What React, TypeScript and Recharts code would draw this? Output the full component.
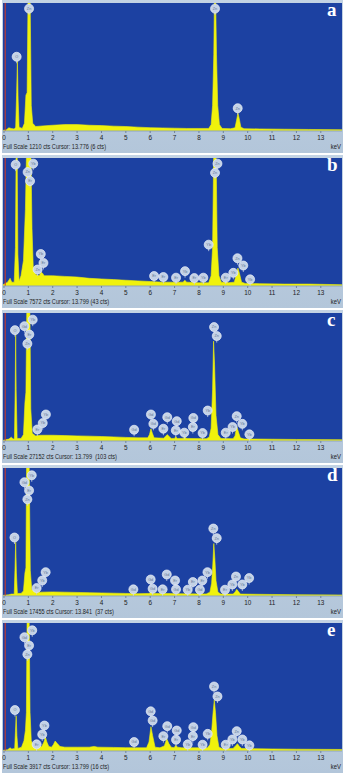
import { Area, CartesianGrid, ComposedChart, ReferenceLine, Scatter, XAxis, YAxis } from 'recharts';

// keV axis as drawn by the EDS software (slightly below 0 on the left)
const KEV_MIN = -0.04;
const KEV_MAX = 13.87;
const kevTicks = [0, 1, 2, 3, 4, 5, 6, 7, 8, 9, 10, 11, 12, 13];

const panelLetters = ['a', 'b', 'c', 'd', 'e'];
const fullScales = [1210, 7572, 27152, 17455, 3917];
const cursorReadouts = ['13.776 (6 cts)', '13.799 (43 cts)', '13.799  (103 cts)', '13.841  (37 cts)', '13.799 (16 cts)'];

// spectra: [keV, % of full scale]
const specA: [number, number][] = [
  [-0.04, 0.5], [0.1, 1], [0.2, 2.5], [0.3, 2], [0.42, 1.5], [0.48, 3], [0.52, 30], [0.55, 55], [0.58, 25], [0.62, 3],
  [0.75, 2], [0.84, 6], [0.9, 28], [0.95, 30], [0.99, 110], [1.07, 110], [1.12, 20], [1.18, 6], [1.3, 3.5], [1.6, 4],
  [2.0, 4.5], [2.5, 5], [3.0, 5], [3.5, 4.5], [4.0, 4.2], [4.5, 3.8], [5.0, 3.5], [5.5, 3], [6.0, 2.6], [6.5, 2.4],
  [7.0, 2.2], [7.5, 2], [8.0, 2], [8.4, 2], [8.5, 5], [8.56, 20], [8.61, 60], [8.64, 110], [8.68, 110], [8.72, 60],
  [8.77, 20], [8.84, 5], [8.95, 2], [9.3, 1.8], [9.48, 2.5], [9.54, 8], [9.6, 14], [9.65, 10], [9.72, 3], [9.85, 1.8],
  [10.5, 1.6], [11.5, 1.4], [12.5, 1.2], [13.87, 1],
];
const specB: [number, number][] = [
  [-0.04, 1], [0.15, 3], [0.25, 6], [0.32, 3], [0.42, 3], [0.47, 30], [0.5, 110], [0.54, 110], [0.57, 25], [0.62, 4],
  [0.7, 8], [0.8, 20], [0.88, 60], [0.93, 110], [1.1, 110], [1.15, 45], [1.2, 15], [1.3, 9], [1.45, 8], [1.52, 11],
  [1.58, 10], [1.65, 8], [2.0, 8], [2.5, 7.5], [3.0, 7], [3.5, 6], [4.0, 5.5], [4.5, 5], [5.0, 4.5], [5.5, 4],
  [6.0, 3.5], [6.5, 3], [7.0, 3], [7.35, 3], [7.42, 4.5], [7.5, 3], [8.0, 2.5], [8.4, 2.5], [8.5, 8], [8.56, 30],
  [8.61, 110], [8.7, 110], [8.75, 30], [8.82, 8], [8.92, 3], [9.05, 3], [9.1, 4], [9.2, 2.5], [9.45, 3], [9.52, 8],
  [9.6, 14], [9.66, 10], [9.75, 3], [9.9, 2], [10.5, 1.8], [11.5, 1.5], [12.5, 1.5], [13.87, 1],
];
const specC: [number, number][] = [
  [-0.04, 0.5], [0.2, 1.5], [0.3, 3], [0.38, 1.5], [0.43, 2], [0.46, 40], [0.48, 85], [0.5, 40], [0.54, 2], [0.7, 2],
  [0.8, 5], [0.86, 30], [0.9, 38], [0.94, 110], [1.06, 110], [1.1, 25], [1.16, 6], [1.3, 4], [1.5, 4.5], [2.0, 4.5],
  [2.5, 4.2], [3.0, 4], [3.5, 3.8], [4.0, 3.5], [4.5, 3.2], [5.0, 2.8], [5.5, 2.5], [5.9, 2.5], [5.97, 5], [6.03, 9.5],
  [6.09, 6], [6.16, 2.5], [6.55, 2.2], [6.62, 3.5], [6.7, 5], [6.78, 3.5], [6.86, 2], [7.0, 2], [7.05, 3.5], [7.1, 2],
  [7.35, 2], [7.42, 3.2], [7.5, 2], [8.3, 1.8], [8.42, 3], [8.5, 10], [8.56, 40], [8.6, 78], [8.64, 60], [8.7, 20],
  [8.78, 5], [8.9, 2], [9.4, 1.8], [9.48, 4], [9.55, 11.4], [9.62, 7], [9.7, 2.5], [9.85, 1.6], [11, 1.4], [12, 1.2],
  [13.87, 1],
];
const specD: [number, number][] = [
  [-0.04, 0.5], [0.2, 1], [0.3, 1.5], [0.42, 1.5], [0.45, 20], [0.48, 42], [0.51, 18], [0.55, 2], [0.7, 2], [0.8, 4],
  [0.86, 18], [0.9, 22], [0.93, 110], [1.03, 110], [1.08, 20], [1.14, 5], [1.3, 3], [1.5, 3], [2.0, 3.2], [2.5, 3],
  [3.0, 2.8], [3.5, 2.6], [4.0, 2.4], [4.5, 2.2], [5.0, 2], [5.5, 1.8], [5.95, 2], [6.03, 3], [6.1, 2], [6.7, 2],
  [7.0, 1.8], [8.3, 1.6], [8.45, 3], [8.52, 10], [8.57, 25], [8.61, 41], [8.65, 30], [8.7, 12], [8.78, 3], [8.9, 1.5],
  [9.4, 1.5], [9.48, 3], [9.55, 5.2], [9.62, 3.5], [9.7, 1.5], [11, 1.2], [12, 1], [13.87, 0.8],
];
const specE: [number, number][] = [
  [-0.04, 0.5], [0.15, 1], [0.25, 2.5], [0.32, 1.5], [0.44, 2], [0.47, 15], [0.5, 27.6], [0.53, 12], [0.57, 2], [0.72, 3],
  [0.82, 8], [0.88, 16], [0.92, 30], [0.95, 110], [1.03, 110], [1.07, 30], [1.12, 8], [1.18, 5], [1.22, 7], [1.27, 4],
  [1.4, 3], [1.55, 3.5], [1.64, 7], [1.7, 10.9], [1.76, 7], [1.84, 3.5], [1.95, 3], [2.03, 5], [2.1, 7.8], [2.18, 6],
  [2.3, 3.5], [2.5, 3], [3.0, 3], [3.5, 3], [3.7, 3.6], [3.85, 3], [4.5, 2.8], [5.0, 2.6], [5.5, 2.5], [5.85, 2.5],
  [5.95, 7], [6.03, 19], [6.1, 12], [6.2, 3], [6.4, 2.5], [6.58, 4], [6.68, 9.6], [6.76, 6], [6.86, 3], [6.98, 2.5],
  [7.05, 4.4], [7.12, 3], [7.3, 2.5], [7.8, 2.5], [8.35, 2.5], [8.45, 5], [8.52, 15], [8.58, 30], [8.63, 39.8], [8.68, 30],
  [8.74, 12], [8.82, 3], [8.95, 2], [9.4, 2], [9.5, 4], [9.58, 5.7], [9.66, 3.5], [9.75, 2], [11, 1.6], [12, 1.4],
  [13.87, 1.2],
];

// element tags: [keV, % of full scale, element]
const tagsA: [number, number, string][] = [
  [0.52, 58, 'O'], [1.03, 95.6, 'Zn'], [8.66, 95.6, 'Zn'], [9.59, 17.8, 'Zn'],
];
const tagsB: [number, number, string][] = [
  [0.48, 94.8, 'O'], [0.97, 89, 'Zn'], [1.2, 95.6, 'Yb'], [1.07, 82, 'Er'], [1.51, 25, 'Yb'], [1.62, 18, 'Er'],
  [1.38, 12.9, 'Zn'], [6.16, 7.8, 'Er'], [6.54, 7, 'Er'], [7.06, 6.5, 'Er'], [7.43, 11.6, 'Yb'], [7.81, 6.2, 'Er'],
  [8.18, 6.5, 'Yb'], [8.4, 32.3, 'Yb'], [8.66, 88.4, 'Zn'], [8.76, 95.6, 'Zn'], [9.1, 6.5, 'Er'], [9.41, 10.3, 'Yb'],
  [9.58, 21.7, 'Zn'], [9.82, 16, 'Yb'], [10.1, 5.2, 'Yb'],
];
const tagsC: [number, number, string][] = [
  [0.45, 86.6, 'O'], [0.84, 89.7, 'Gd'], [1.18, 94.8, 'Yb'], [1.04, 83.2, 'Er'], [0.96, 76, 'Zn'], [1.37, 9, 'Er'],
  [1.59, 14, 'Yb'], [1.72, 20.7, 'Yb'], [5.34, 8.8, 'Gd'], [6.03, 20.7, 'Gd'], [6.13, 13.4, 'Gd'], [6.54, 9.6, 'Er'],
  [6.7, 18.6, 'Gd'], [7.09, 15.5, 'Gd'], [7.05, 8.3, 'Er'], [7.4, 6.5, 'Yb'], [7.77, 18, 'Gd'], [7.75, 10.9, 'Er'],
  [8.15, 6.2, 'Yb'], [8.36, 23.8, 'Yb'], [8.62, 89, 'Zn'], [8.73, 82, 'Zn'], [9.1, 6.5, 'Er'], [9.38, 10.9, 'Yb'],
  [9.55, 19.4, 'Zn'], [9.78, 13.4, 'Yb'], [10.07, 5.2, 'Yb'],
];
const tagsD: [number, number, string][] = [
  [0.43, 45.7, 'O'], [0.84, 88.9, 'Gd'], [1.14, 94.3, 'Yb'], [1.03, 82.4, 'Er'], [0.96, 75.5, 'Zn'], [1.34, 6.2, 'Er'],
  [1.57, 12.1, 'Yb'], [1.71, 18.6, 'Yb'], [5.31, 5.2, 'Gd'], [6.02, 12.9, 'Gd'], [6.1, 5.7, 'Gd'], [6.51, 5.2, 'Er'],
  [6.68, 16.8, 'Gd'], [7.02, 12.1, 'Er'], [7.06, 5.2, 'Gd'], [7.54, 4.9, 'Yb'], [7.75, 10.9, 'Er'], [8.04, 4.9, 'Gd'],
  [8.14, 12.1, 'Er'], [8.35, 18.6, 'Yb'], [8.59, 52.7, 'Zn'], [8.73, 45.2, 'Zn'], [9.07, 4.9, 'Er'], [9.37, 9, 'Yb'],
  [9.52, 15.2, 'Zn'], [9.78, 9, 'Yb'], [10.06, 14, 'Yb'],
];
const tagsE: [number, number, string][] = [
  [0.45, 32, 'O'], [0.84, 88.9, 'Gd'], [1.16, 94.3, 'Yb'], [1.03, 82.4, 'Er'], [0.96, 75.5, 'Zn'], [1.34, 5.2, 'Er'],
  [1.57, 12.9, 'Yb'], [1.66, 19.9, 'Yb'], [5.34, 7, 'Gd'], [6.02, 31, 'Gd'], [6.1, 23.8, 'Gd'], [6.54, 11.6, 'Er'],
  [6.7, 19.4, 'Gd'], [7.09, 16, 'Gd'], [7.06, 8.8, 'Er'], [7.54, 5.2, 'Yb'], [7.77, 18.6, 'Gd'], [7.75, 11.6, 'Er'],
  [8.15, 4.9, 'Yb'], [8.36, 13.4, 'Yb'], [8.62, 50.4, 'Zn'], [8.76, 42.6, 'Zn'], [9.1, 4.9, 'Er'], [9.37, 9, 'Yb'],
  [9.55, 15.5, 'Zn'], [9.78, 9, 'Yb'], [10.07, 4.4, 'Yb'],
];

const spectra = [specA, specB, specC, specD, specE];
const tagSets = [tagsA, tagsB, tagsC, tagsD, tagsE];
const panelTops = [0, 155, 310, 465, 620];

const PLOT_BLUE = '#1c41a2';
const PEAK_YELLOW = '#f0f20c';

function KevTick({ x, y, payload }: any) {
  return (
    <text
      x={x}
      y={y + 6.8}
      textAnchor="middle"
      fontSize={8}
      fontFamily="Arial, 'Liberation Sans', sans-serif"
      fill="#222222"
      transform={`translate(${x} 0) scale(0.8 1) translate(${-x} 0)`}
    >
      {payload.value}
    </text>
  );
}

function ElementTag(props: any) {
  const { cx, cy, payload } = props;
  if (cx == null || cy == null) return <g />;
  return (
    <g>
      <line x1={cx} y1={cy + 3.5} x2={cx} y2={cy + 6.5} stroke="#c3d1e6" strokeWidth={0.8} />
      <circle cx={cx} cy={cy} r={4.5} fill="#c4d2e6" stroke="#e9eff8" strokeWidth={0.7} />
      <text x={cx} y={cy + 1.4} textAnchor="middle" fontSize={3.8} fontFamily="Arial, sans-serif" fill="#5f7595">
        {payload.el}
      </text>
    </g>
  );
}

function SpectrumPanel({ index }: { index: number }) {
  const data = spectra[index].map(([kev, pct]) => ({ kev, pct }));
  const tags = tagSets[index].map(([kev, pct, el]) => ({ kev, pct, el }));
  return (
    <div
      style={{
        position: 'absolute',
        left: 2,
        top: panelTops[index],
        width: 341,
        height: 153,
        background: 'linear-gradient(#c3d3e4, #b3c6da)',
      }}
    >
      <ComposedChart width={341} height={143} data={data} margin={{ top: 3, right: 1, bottom: 0, left: 1 }}>
        <CartesianGrid horizontal={false} vertical={false} fill={PLOT_BLUE} stroke="none" />
        <XAxis
          dataKey="kev"
          type="number"
          domain={[KEV_MIN, KEV_MAX]}
          ticks={kevTicks}
          interval={0}
          allowDataOverflow
          height={12}
          tickSize={2}
          tickMargin={0}
          tickLine={{ stroke: '#6f829c' }}
          axisLine={{ stroke: '#8ea3bf' }}
          tick={<KevTick />}
        />
        <YAxis hide type="number" domain={[0, 100]} allowDataOverflow />
        <ReferenceLine x={0.05} stroke="#d9371f" strokeWidth={1} />
        <Area
          dataKey="pct"
          type="linear"
          fill={PEAK_YELLOW}
          fillOpacity={1}
          stroke={PEAK_YELLOW}
          strokeWidth={0.6}
          dot={false}
          activeDot={false}
          isAnimationActive={false}
        />
        <Scatter data={tags} dataKey="pct" shape={ElementTag} isAnimationActive={false} />
      </ComposedChart>
      <div
        style={{
          position: 'absolute',
          left: 1,
          top: 141.5,
          fontSize: 7,
          lineHeight: '9px',
          fontFamily: "Arial, 'Liberation Sans', sans-serif",
          color: '#1e1e1e',
          whiteSpace: 'pre',
          transform: 'scaleX(0.8)',
          transformOrigin: 'left center',
        }}
      >
        {`Full Scale ${fullScales[index]} cts Cursor: ${cursorReadouts[index]}`}
      </div>
      <div
        style={{
          position: 'absolute',
          right: 2,
          top: 141.5,
          fontSize: 7,
          lineHeight: '9px',
          fontFamily: "Arial, 'Liberation Sans', sans-serif",
          color: '#1e1e1e',
          transform: 'scaleX(0.85)',
          transformOrigin: 'right center',
        }}
      >
        keV
      </div>
      <div
        style={{
          position: 'absolute',
          left: 325,
          top: 0,
          fontSize: 19,
          lineHeight: '19px',
          fontWeight: 'bold',
          fontFamily: "'Liberation Serif', 'Times New Roman', serif",
          color: '#ffffff',
        }}
      >
        {panelLetters[index]}
      </div>
    </div>
  );
}

export default function App() {
  return (
    <div style={{ position: 'absolute', left: 0, top: 0, width: 345, height: 775, background: '#ffffff' }}>
      {panelLetters.map((_, i) => (
        <SpectrumPanel key={i} index={i} />
      ))}
    </div>
  );
}
